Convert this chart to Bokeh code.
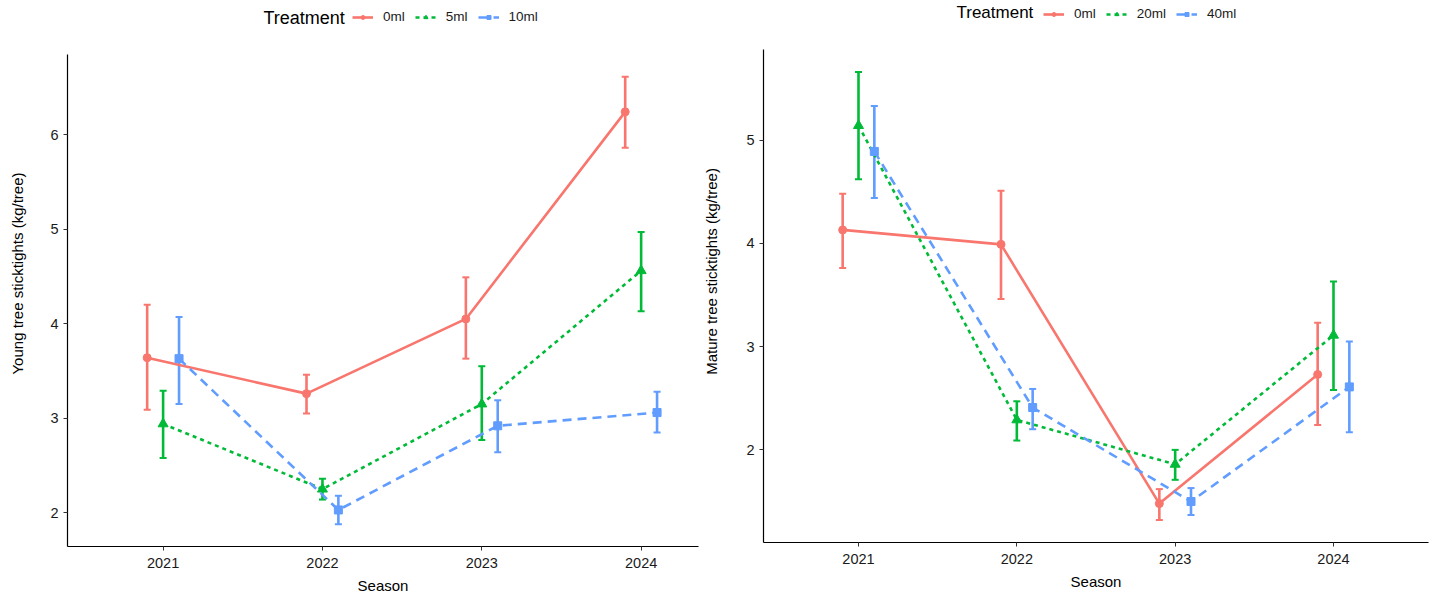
from bokeh.plotting import figure
from bokeh.layouts import row
from bokeh.models import (ColumnDataSource, Whisker, TeeHead, FixedTicker, Legend,
                          LegendItem, Label, Range1d)
from bokeh.embed import file_html
from bokeh.resources import INLINE

# ---------------- data ----------------
seasons = [2021, 2022, 2023, 2024]
season_labels = ["2021", "2022", "2023", "2024"]

young_treatments = ["0ml", "5ml", "10ml"]
young_0_mean = [3.64, 3.26, 4.05, 6.24]
young_0_lo = [3.09, 3.05, 3.63, 5.86]
young_0_hi = [4.20, 3.46, 4.49, 6.61]
young_5_mean = [2.94, 2.25, 3.15, 4.56]
young_5_lo = [2.58, 2.14, 2.77, 4.13]
young_5_hi = [3.29, 2.36, 3.55, 4.97]
young_10_mean = [3.63, 2.03, 2.92, 3.06]
young_10_lo = [3.15, 1.88, 2.64, 2.85]
young_10_hi = [4.07, 2.18, 3.19, 3.28]

mature_treatments = ["0ml", "20ml", "40ml"]
mature_0_mean = [4.13, 3.99, 1.48, 2.73]
mature_0_lo = [3.76, 3.46, 1.32, 2.24]
mature_0_hi = [4.48, 4.51, 1.62, 3.23]
mature_20_mean = [5.14, 2.29, 1.86, 3.11]
mature_20_lo = [4.62, 2.09, 1.71, 2.58]
mature_20_hi = [5.66, 2.47, 2.00, 3.63]
mature_40_mean = [4.89, 2.41, 1.50, 2.61]
mature_40_lo = [4.44, 2.20, 1.37, 2.17]
mature_40_hi = [5.33, 2.59, 1.63, 3.05]

young_y_ticks = [2, 3, 4, 5, 6]
mature_y_ticks = [2, 3, 4, 5]

# ---------------- style ----------------
COLORS = ["#F8766D", "#00BA38", "#619CFF"]
DASHES = ["solid", "4 4", "9 6"]
MARKERS = ["circle", "triangle", "square"]
MSIZES = [8, 10, 8]
DODGE = [-0.1, 0.0, 0.1]
FONT = "Liberation Sans"


def make_panel(series, treatments, ylabel, y_ticks, x_end, fw, fh, data_h, mbl, mbr,
               ylab_standoff, leg_x, leg_y, title_x, title_y, title_size):
    all_lo = [v for s in series for v in s[1]]
    all_hi = [v for s in series for v in s[2]]
    lo, hi = min(all_lo), max(all_hi)
    pad = 0.05 * (hi - lo)
    y0, y1 = lo - pad, hi + pad
    # frame extends above the data panel so the legend sits inside the canvas frame
    y_top = y0 + (y1 - y0) * fh / data_h
    p = figure(frame_width=fw, frame_height=fh, min_border_left=mbl, min_border_right=mbr,
               min_border_top=0, min_border_bottom=46,
               x_range=Range1d(2020.4, x_end), y_range=Range1d(y0, y_top),
               output_backend="svg", toolbar_location=None)
    items = []
    for i, (mean, lows, highs) in enumerate(series):
        xs = [s + DODGE[i] for s in seasons]
        src = ColumnDataSource(dict(x=xs, y=mean, lo=lows, hi=highs))
        ln = p.line("x", "y", source=src, line_color=COLORS[i], line_width=2.6,
                    line_dash=DASHES[i])
        w = Whisker(source=src, base="x", lower="lo", upper="hi", dimension="height",
                    line_color=COLORS[i], line_width=2.6,
                    upper_head=TeeHead(size=7, line_color=COLORS[i], line_width=2),
                    lower_head=TeeHead(size=7, line_color=COLORS[i], line_width=2))
        p.add_layout(w)
        sc = p.scatter("x", "y", source=src, marker=MARKERS[i], size=MSIZES[i],
                       fill_color=COLORS[i], line_color=COLORS[i])
        items.append(LegendItem(label=treatments[i], renderers=[ln, sc]))

    leg = Legend(items=items, orientation="horizontal", location=(leg_x, leg_y),
                 glyph_width=21, glyph_height=10, label_height=10, label_standoff=10,
                 spacing=10, padding=0, margin=0, border_line_color=None,
                 background_fill_alpha=0, label_text_font=FONT,
                 label_text_font_size="13.5px", label_text_color="#1a1a1a")
    p.add_layout(leg)
    p.add_layout(Label(x=title_x, y=title_y, x_units="screen", y_units="screen",
                       text="Treatment", text_font=FONT, text_font_size=title_size,
                       text_baseline="alphabetic", text_color="black"))

    p.xgrid.visible = False
    p.ygrid.visible = False
    p.outline_line_color = None
    p.xaxis.ticker = FixedTicker(ticks=seasons)
    p.xaxis.major_label_overrides = {s: l for s, l in zip(seasons, season_labels)}
    p.yaxis.ticker = FixedTicker(ticks=y_ticks)
    p.yaxis.bounds = (y0, y1)
    p.xaxis.axis_label = "Season"
    p.yaxis.axis_label = ylabel
    p.yaxis.axis_label_standoff = ylab_standoff
    p.xaxis.axis_label_standoff = 6
    for ax in (p.xaxis[0], p.yaxis[0]):
        ax.axis_line_color = "black"
        ax.axis_line_width = 1.2
        ax.major_tick_line_color = "#333333"
        ax.major_tick_out = 4
        ax.major_tick_in = 0
        ax.minor_tick_line_color = None
        ax.major_label_text_font = FONT
        ax.major_label_text_font_size = "14.5px"
        ax.major_label_text_color = "#1a1a1a"
        ax.axis_label_text_font = FONT
        ax.axis_label_text_font_size = "15px"
        ax.axis_label_text_font_style = "normal"
        ax.axis_label_text_color = "black"
    p.xaxis.major_label_standoff = 7
    p.yaxis.major_label_standoff = 5
    return p


young_series = [(young_0_mean, young_0_lo, young_0_hi),
                (young_5_mean, young_5_lo, young_5_hi),
                (young_10_mean, young_10_lo, young_10_hi)]
mature_series = [(mature_0_mean, mature_0_lo, mature_0_hi),
                 (mature_20_mean, mature_20_lo, mature_20_hi),
                 (mature_40_mean, mature_40_lo, mature_40_hi)]

p1 = make_panel(young_series, young_treatments, "Young tree sticktights (kg/tree)",
                young_y_ticks, 2024.36, 631, 546, 492, 67, 2, 21,
                285, 522, 196, 529, "18px")
p2 = make_panel(mature_series, mature_treatments, "Mature tree sticktights (kg/tree)",
                mature_y_ticks, 2024.6, 665, 542, 493, 62, 4, 23,
                280, 521, 193, 530, "17px")

layout = row(p1, p2)
open("out.html", "w").write(file_html(layout, INLINE))
